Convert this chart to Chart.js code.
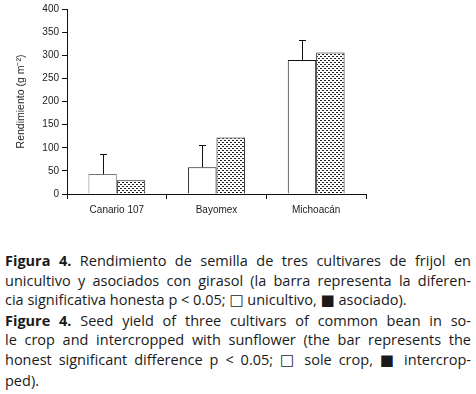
<!DOCTYPE html>
<html lang="es">
<head>
  <meta charset="UTF-8" />
  <title>Figura 4 - Rendimiento de frijol</title>
  <style>
    body { margin: 0; background: #fff; width: 476px; height: 394px; overflow: hidden; }
    #wrap { position: relative; width: 476px; height: 232px; }
    #caption { position: absolute; left: 5px; top: 251px; width: 466px; font-family: "Open Sans", Lato, sans-serif; font-size: 14.5px; line-height: 19.6px; color: #1a1a1a; }
    #caption div { white-space: nowrap; text-align: justify; text-align-last: justify; }
    #caption div.last { text-align-last: left; }
    #caption b { font-weight: bold; }
    #caption .sq { font-family: "DejaVu Sans", sans-serif; font-size: 15px; }
  </style>
  <script src="https://cdn.jsdelivr.net/npm/chart.js"></script>
</head>
<body>
  <div id="wrap"><canvas id="chart" width="476" height="232"></canvas></div>
  <div id="caption">
    <div><b>Figura 4.</b> Rendimiento de semilla de tres cultivares de frijol en</div>
    <div>unicultivo y asociados con girasol (la barra representa la diferen-</div>
    <div class="last">cia significativa honesta p &lt; 0.05; <span class="sq">&#9633;</span> unicultivo, <span class="sq">&#9632;</span> asociado).</div>
    <div><b>Figure 4.</b> Seed yield of three cultivars of common bean in so-</div>
    <div>le crop and intercropped with sunflower (the bar represents the</div>
    <div>honest significant difference p &lt; 0.05; <span class="sq">&#9633;</span> sole crop, <span class="sq">&#9632;</span> intercrop-</div>
    <div class="last">ped).</div>
  </div>

  <script>
    const cultivars = ["Canario 107", "Bayomex", "Michoacán"];
    const soleCrop = [43, 58, 290];
    const intercropped = [30, 122, 306];
    const hsd = [43, 48, 44]; // bar length above the sole crop column
    const yTicks = [0, 50, 100, 150, 200, 250, 300, 350, 400];

    // dotted fill like the printed figure
    function makePattern() {
      const c = document.createElement("canvas");
      c.width = 4; c.height = 4;
      const g = c.getContext("2d");
      g.fillStyle = "#fff";
      g.fillRect(0, 0, 4, 4);
      g.fillStyle = "#222";
      g.fillRect(0, 0, 2, 1);
      g.fillRect(2, 2, 2, 1);
      return g.createPattern(c, "repeat");
    }

    const errorBars = {
      id: "errorBars",
      afterDatasetsDraw(chart) {
        const ctx = chart.ctx;
        const meta = chart.getDatasetMeta(0);
        const y = chart.scales.y;
        ctx.save();
        ctx.strokeStyle = "#111";
        ctx.lineWidth = 1;
        meta.data.forEach((bar, i) => {
          const x = Math.round(bar.x) + 0.5;
          const top = y.getPixelForValue(soleCrop[i]);
          const end = Math.round(y.getPixelForValue(soleCrop[i] + hsd[i])) + 0.5;
          ctx.beginPath();
          ctx.moveTo(x, top);
          ctx.lineTo(x, end);
          ctx.moveTo(x - 3.5, end);
          ctx.lineTo(x + 3.5, end);
          ctx.stroke();
        });
        ctx.restore();
      }
    };

    const tickFont = { family: "Arial, 'Liberation Sans', sans-serif", size: 10 };

    new Chart(document.getElementById("chart"), {
      type: "bar",
      data: {
        labels: cultivars,
        datasets: [
          {
            label: "unicultivo",
            data: soleCrop,
            backgroundColor: "#fff",
            borderColor: ["#777", "#111", "#111"],
            borderWidth: 1,
            borderSkipped: "bottom"
          },
          {
            label: "asociado",
            data: intercropped,
            backgroundColor: makePattern(),
            borderColor: "#111",
            borderWidth: 1,
            borderSkipped: "bottom"
          }
        ]
      },
      options: {
        responsive: false,
        animation: false,
        layout: { padding: { left: 15, top: 5, right: 110, bottom: 0 } },
        datasets: { bar: { barPercentage: 1, categoryPercentage: 0.57 } },
        plugins: { legend: { display: false }, tooltip: { enabled: false } },
        scales: {
          x: {
            grid: { offset: true, drawOnChartArea: false, drawTicks: true, tickLength: 5, color: "#111" },
            border: { color: "#111" },
            ticks: { color: "#222", font: tickFont, padding: 5 },
            afterFit: s => { s.height = 38; }
          },
          y: {
            min: 0,
            max: 400,
            afterBuildTicks: s => { s.ticks = yTicks.map(v => ({ value: v })); },
            grid: { drawOnChartArea: false, drawTicks: true, tickLength: 5, color: "#111" },
            border: { color: "#111" },
            ticks: { color: "#222", font: tickFont, padding: 3 },
            title: { display: true, text: "Rendimiento (g m⁻²)", color: "#222", font: { family: "Arial, 'Liberation Sans', sans-serif", size: 10.5 }, padding: { top: 0, bottom: 6 } },
            afterFit: s => { s.width = 52; }
          }
        }
      },
      plugins: [errorBars]
    });
  </script>
</body>
</html>
